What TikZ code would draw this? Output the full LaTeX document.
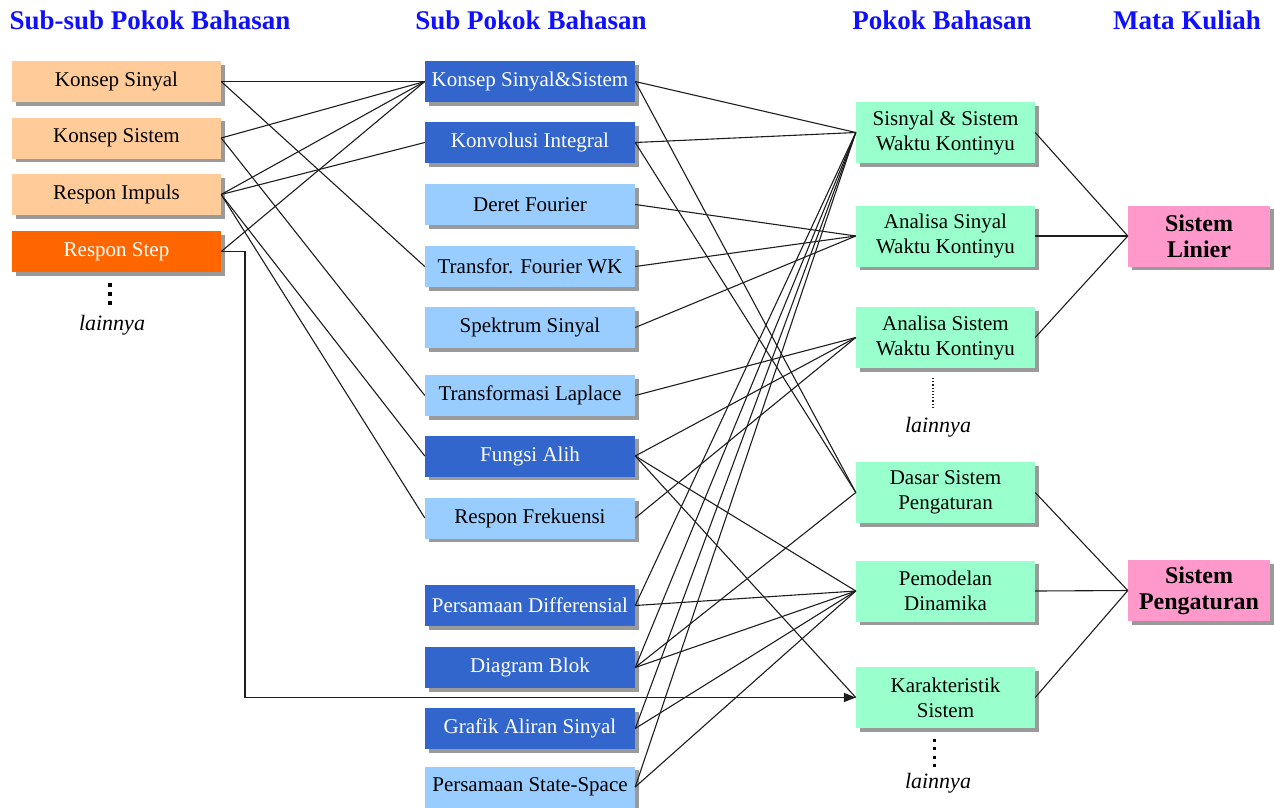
\documentclass[tikz,border=0pt]{standalone}
\usepackage{fontspec}
\setmainfont{Liberation Serif}
\newfontfamily\boxserif{Liberation Serif}
\usetikzlibrary{shadows,arrows.meta}

\definecolor{peach}{HTML}{FFCC99}
\definecolor{stepor}{HTML}{FF6600}
\definecolor{darkbl}{HTML}{3366CC}
\definecolor{lightbl}{HTML}{99CCFF}
\definecolor{mint}{HTML}{99FFCC}
\definecolor{pinkbx}{HTML}{FF99CC}
\definecolor{headbl}{HTML}{1010FF}
\definecolor{shade}{HTML}{9A9A9A}
\definecolor{wire}{HTML}{1E1E1E}

\tikzset{
  box/.style={rectangle, inner sep=0pt, align=center,
    general shadow={fill=shade, shadow xshift=3.5pt, shadow yshift=-3.5pt},
    font=\boxserif\fontsize{21}{25}\selectfont},
  leftbox/.style={box, minimum width=209pt, minimum height=41pt},
  midbox/.style={box, minimum width=210pt, minimum height=41pt},
  topicbox/.style={box, minimum width=179pt, minimum height=61pt, fill=mint},
  coursebox/.style={box, minimum width=142pt, minimum height=61pt, fill=pinkbx,
    font=\boxserif\fontsize{24}{26}\selectfont\bfseries},
  heading/.style={text=headbl, font=\boxserif\fontsize{27}{30}\selectfont\bfseries, inner sep=0pt},
  others/.style={font=\boxserif\fontsize{22}{26}\selectfont\itshape, inner sep=0pt},
  link/.style={draw=wire, line width=1.1pt},
  steplink/.style={draw=wire, line width=1.8pt, -{Triangle[length=12pt,width=9pt]}},
  dotsq/.style={fill=black, inner sep=0pt, minimum width=4pt, minimum height=4pt},
  smalldot/.style={fill=black, inner sep=0pt, minimum width=3pt, minimum height=3pt}
}

\begin{document}
\begin{tikzpicture}[x=1pt,y=-1pt]
\useasboundingbox (0,0) rectangle (1274,807);

% column headings
\node[heading] (h1) at (150,20) {Sub-sub Pokok Bahasan};
\node[heading] (h2) at (531,20) {Sub Pokok Bahasan};
\node[heading] (h3) at (942,20) {Pokok Bahasan};
\node[heading] (h4) at (1187,20) {Mata Kuliah};

% sub-sub topics
\node[leftbox, fill=peach] (ks)  at (116.5,81.5)  {Konsep Sinyal};
\node[leftbox, fill=peach] (ksi) at (116.5,138)   {Konsep Sistem};
\node[leftbox, fill=peach] (ri)  at (116.5,194.5) {Respon Impuls};
\node[leftbox, fill=stepor, text=white] (rs) at (116.5,251.5) {Respon Step};
\node[dotsq] (d1) at (110,285) {};
\node[dotsq] (d2) at (110,294) {};
\node[dotsq] (d3) at (110,303) {};
\node[others] (o1) at (112,325) {lainnya};

% sub topics
\node[midbox, fill=darkbl, text=white] (kss) at (530,81.5)  {Konsep Sinyal\&Sistem};
\node[midbox, fill=darkbl, text=white] (ki)  at (530,142.5) {Konvolusi Integral};
\node[midbox, fill=lightbl] (df) at (530,204.5) {Deret Fourier};
\node[midbox, fill=lightbl] (tf) at (530,266.5) {Transfor. Fourier WK};
\node[midbox, fill=lightbl] (sp) at (530,327.5) {Spektrum Sinyal};
\node[midbox, fill=lightbl] (tl) at (530,395.5) {Transformasi Laplace};
\node[midbox, fill=darkbl, text=white] (fa) at (530,456) {Fungsi Alih};
\node[midbox, fill=lightbl] (rf) at (530,518) {Respon Frekuensi};
\node[midbox, fill=darkbl, text=white] (pdf) at (530,605.5) {Persamaan Differensial};
\node[midbox, fill=darkbl, text=white] (db)  at (530,667.5) {Diagram Blok};
\node[midbox, fill=darkbl, text=white] (ga)  at (530,728.5) {Grafik Aliran Sinyal};
\node[midbox, fill=lightbl] (ss) at (530,787) {Persamaan State-Space};

% topics
\node[topicbox] (ssw) at (945.5,132.5) {Sisnyal \& Sistem\\Waktu Kontinyu};
\node[topicbox] (asi) at (945.5,236)   {Analisa Sinyal\\Waktu Kontinyu};
\node[topicbox] (ass) at (945.5,337.5) {Analisa Sistem\\Waktu Kontinyu};
\node[topicbox] (dsp) at (945.5,492.5) {Dasar Sistem\\Pengaturan};
\node[topicbox] (pm)  at (945.5,591)   {Pemodelan\\Dinamika};
\node[topicbox] (kr)  at (945.5,697.5) {Karakteristik\\Sistem};
\draw[wire, line width=1.2pt, dotted] (933,378) -- (933,408);
\node[others] (o2) at (938,427) {lainnya};
\node[smalldot] (e1) at (934,740) {};
\node[smalldot] (e2) at (934,748.5) {};
\node[smalldot] (e3) at (934,757) {};
\node[smalldot] (e4) at (934,765.5) {};
\node[others] (o3) at (938,783) {lainnya};

% courses
\node[coursebox] (sl) at (1199,236)   {Sistem\\Linier};
\node[coursebox] (sg) at (1199,590.5) {Sistem\\Pengaturan};

% sub-sub topics to sub topics
\draw[link] (ks.east)  -- (kss.west);
\draw[link] (ks.east)  -- (tf.west);
\draw[link] (ksi.east) -- (kss.west);
\draw[link] (ksi.east) -- (tl.west);
\draw[link] (ri.east)  -- (kss.west);
\draw[link] (ri.east)  -- (ki.west);
\draw[link] (ri.east)  -- (fa.west);
\draw[link] (ri.east)  -- (rf.west);
\draw[link] (rs.east)  -- (kss.west);
\draw[steplink] (rs.east) -- ++(24,0) |- (kr.west);

% sub topics to topics
\draw[link] (kss.east) -- (ssw.west);
\draw[link] (kss.east) -- (dsp.west);
\draw[link] (ki.east)  -- (ssw.west);
\draw[link] (ki.east)  -- (dsp.west);
\draw[link] (df.east)  -- (asi.west);
\draw[link] (tf.east)  -- (asi.west);
\draw[link] (sp.east)  -- (asi.west);
\draw[link] (tl.east)  -- (ass.west);
\draw[link] (fa.east)  -- (ass.west);
\draw[link] (fa.east)  -- (pm.west);
\draw[link] (fa.east)  -- (kr.west);
\draw[link] (rf.east)  -- (ass.west);
\draw[link] (pdf.east) -- (ssw.west);
\draw[link] (pdf.east) -- (pm.west);
\draw[link] (db.east)  -- (ssw.west);
\draw[link] (db.east)  -- (dsp.west);
\draw[link] (db.east)  -- (pm.west);
\draw[link] (ga.east)  -- (ssw.west);
\draw[link] (ga.east)  -- (pm.west);
\draw[link] (ss.east)  -- (ssw.west);
\draw[link] (ss.east)  -- (pm.west);

% topics to courses
\draw[link] (ssw.east) -- (sl.west);
\draw[link] (asi.east) -- (sl.west);
\draw[link] (ass.east) -- (sl.west);
\draw[link] (dsp.east) -- (sg.west);
\draw[link] (pm.east)  -- (sg.west);
\draw[link] (kr.east)  -- (sg.west);
\end{tikzpicture}
\end{document}
